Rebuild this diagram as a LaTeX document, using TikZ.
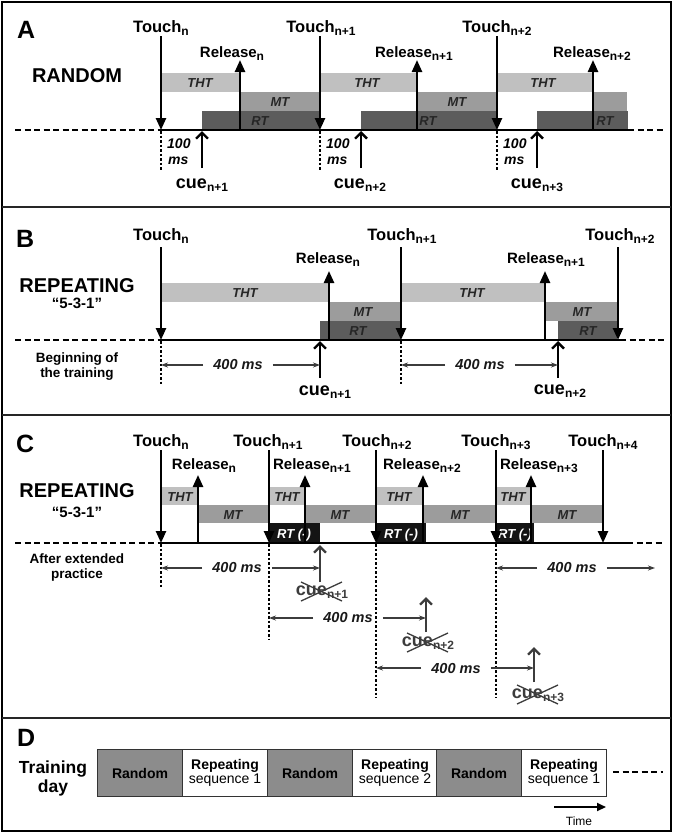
\documentclass[tikz,border=0pt]{standalone}
\usepackage{fontspec}
\setmainfont{Liberation Sans}
\usepackage{graphicx}
\usetikzlibrary{arrows.meta}
\definecolor{thtc}{HTML}{C0C0C0}
\definecolor{mtc}{HTML}{9C9C9C}
\definecolor{rtc}{HTML}{5C5C5C}
\definecolor{rtmc}{HTML}{141414}
\definecolor{darkc}{HTML}{3C3C3C}
\definecolor{randc}{HTML}{8C8C8C}
\newcommand\fsz[1]{\fontsize{#1}{#1}\selectfont}
\newcommand\lsub[1]{\raisebox{-3.5pt}{\fsz{12}#1}}
\newcommand\arr[5]{\coordinate (#1s) at (#3,#4);\coordinate (#1e) at (#3,#5);\draw[#2] (#1s) -- (#1e);}
\newcommand\dimln[6]{% name, y, xleft, xright, xtext, label
  \coordinate (#1L) at (#3,#2);\coordinate (#1R) at (#4,#2);
  \node[dimlbl] (#1) at (#5,#2) {#6};
  \draw[dimarr] (#1.west) -- (#1L);\draw[dimarr] (#1.east) -- (#1R);}
\newcommand\xcue[4]{% name, x, base, sub
  \node[xlbl] (#1) at (#2,#3) {cue\lsub{#4}};
  \coordinate (#1a) at (#2-21,#3-13);\coordinate (#1b) at (#2+20,#3+6);
  \coordinate (#1c) at (#2-21,#3+6);\coordinate (#1d) at (#2+20,#3-13);
  \draw[xline] (#1a) -- (#1b);\draw[xline] (#1c) -- (#1d);}
\newcommand\tbase[6]{% prefix, y, xl, xs, xe, xr
  \coordinate (#1L) at (#3,#2);\coordinate (#1S) at (#4,#2);\coordinate (#1E) at (#5,#2);\coordinate (#1R) at (#6,#2);
  \draw[basedash] (#1L) -- (#1S);\draw[basesolid] (#1S) -- (#1E);\draw[basedash] (#1E) -- (#1R);}
\begin{document}
\begin{tikzpicture}[x=1pt,y=-1pt,
  evarr/.style={line width=2.4pt,-{Triangle[length=12pt,width=10pt]}},
  cuearr/.style={line width=2.3pt,-{Straight Barb[length=6pt,width=12pt]}},
  xcuearr/.style={cuearr,draw=darkc},
  dotln/.style={line width=1.3pt,dash pattern=on 2.5pt off 2pt},
  basesolid/.style={line width=2.4pt},
  basedash/.style={line width=2.4pt,dash pattern=on 6pt off 3.5pt},
  dimarr/.style={line width=1.1pt,draw=darkc,-{Stealth[length=7pt,width=5pt]}},
  dimlbl/.style={font=\fsz{14.5}\bfseries\itshape,inner ysep=0pt,inner xsep=10pt,anchor=center,text=black!90},
  tlbl/.style={font=\fsz{16.5}\bfseries,anchor=base,inner sep=0pt},
  rlbl/.style={font=\fsz{15}\bfseries,anchor=base,inner sep=0pt},
  clbl/.style={font=\fsz{18}\bfseries,anchor=base,inner sep=0pt},
  barlbl/.style={font=\fsz{13}\bfseries\itshape,anchor=base,inner sep=0pt,text=black!85},
  rtmlbl/.style={barlbl,text=white},
  plbl/.style={font=\fsz{25}\bfseries,anchor=base west,inner sep=0pt},
  clslbl/.style={font=\fsz{20}\bfseries,anchor=base,inner sep=0pt},
  qlbl/.style={font=\fsz{15}\bfseries,anchor=base,inner sep=0pt},
  notelbl/.style={font=\fsz{13.5}\bfseries,anchor=base,inner sep=0pt},
  mslbl/.style={font=\fsz{14}\bfseries\itshape,anchor=base west,inner sep=0pt},
  xlbl/.style={font=\fsz{18}\bfseries,anchor=base,inner sep=0pt,text=darkc},
  xline/.style={line width=1.3pt,draw=darkc},
  blk/.style={draw=black!80,line width=1pt,minimum width=85pt,minimum height=47pt,inner sep=0pt,anchor=north west,align=center,font=\fsz{14}},
  frame/.style={line width=2.6pt},
  sepln/.style={line width=2pt,draw=black!85}]
\useasboundingbox (0,0) rectangle (673,833);
\fill[white] (0,0) rectangle (673,833);
% frame and separators
\draw[frame] (2,2) rectangle (671,831);
\coordinate (s1a) at (2,207);\coordinate (s1b) at (671,207);\draw[sepln] (s1a) -- (s1b);
\coordinate (s2a) at (2,415);\coordinate (s2b) at (671,415);\draw[sepln] (s2a) -- (s2b);
\coordinate (s3a) at (2,718);\coordinate (s3b) at (671,718);\draw[sepln] (s3a) -- (s3b);

%%%%%%%%%%%%%%%% PANEL A
\node[plbl] (pA) at (17,38) {A};
\node[clslbl] (rand) at (77,82) {RANDOM};
\fill[thtc] (161,73) rectangle (240,92);
\fill[thtc] (320,73) rectangle (417,92);
\fill[thtc] (497,73) rectangle (593,92);
\fill[mtc] (240,92) rectangle (320,111);
\fill[mtc] (417,92) rectangle (497,111);
\fill[mtc] (593,92) rectangle (627,111);
\fill[rtc] (202,111) rectangle (320,130);
\fill[rtc] (361,111) rectangle (497,130);
\fill[rtc] (537,111) rectangle (628,130);
\node[barlbl] (aTHT1) at (200,87) {THT};
\node[barlbl] (aTHT2) at (367,87) {THT};
\node[barlbl] (aTHT3) at (543,87) {THT};
\node[barlbl] (aMT1) at (280,106) {MT};
\node[barlbl] (aMT2) at (457,106) {MT};
\node[barlbl] (aRT1) at (260,125) {RT};
\node[barlbl] (aRT2) at (428,125) {RT};
\node[barlbl] (aRT3) at (605,125) {RT};
\tbase{aB}{130}{15}{161}{628}{665}
\arr{aT1}{evarr}{161}{36}{130}
\arr{aT2}{evarr}{320}{36}{130}
\arr{aT3}{evarr}{497}{36}{130}
\arr{aR1}{evarr}{240}{130}{60}
\arr{aR2}{evarr}{417}{130}{60}
\arr{aR3}{evarr}{593}{130}{60}
\arr{aC1}{cuearr}{202}{168}{131}
\arr{aC2}{cuearr}{361}{168}{131}
\arr{aC3}{cuearr}{537}{168}{131}
\arr{aD1}{dotln}{161}{131}{170}
\arr{aD2}{dotln}{320}{131}{170}
\arr{aD3}{dotln}{497}{131}{170}
\node[tlbl] (aTl1) at (161,32) {Touch\lsub{n}};
\node[tlbl] (aTl2) at (321,32) {Touch\lsub{n+1}};
\node[tlbl] (aTl3) at (497,32) {Touch\lsub{n+2}};
\node[rlbl] (aRl1) at (232,57) {Release\lsub{n}};
\node[rlbl] (aRl2) at (414,57) {Release\lsub{n+1}};
\node[rlbl] (aRl3) at (592,57) {Release\lsub{n+2}};
\node[clbl] (aCl1) at (202,188) {cue\lsub{n+1}};
\node[clbl] (aCl2) at (360,188) {cue\lsub{n+2}};
\node[clbl] (aCl3) at (537,188) {cue\lsub{n+3}};
\node[mslbl] (am1a) at (167,148) {100};\node[mslbl] (am1b) at (168,164) {ms};
\node[mslbl] (am2a) at (326,148) {100};\node[mslbl] (am2b) at (327,164) {ms};
\node[mslbl] (am3a) at (503,148) {100};\node[mslbl] (am3b) at (504,164) {ms};

%%%%%%%%%%%%%%%% PANEL B
\node[plbl] (pB) at (16,247) {B};
\node[clslbl] (repB) at (77,292) {REPEATING};
\node[qlbl] (qB) at (77,308) {“5-3-1”};
\node[notelbl] (nB1) at (77,362) {Beginning of};
\node[notelbl] (nB2) at (77,377) {the training};
\fill[thtc] (161,283) rectangle (329,302);
\fill[thtc] (401,283) rectangle (545,302);
\fill[mtc] (329,302) rectangle (401,321);
\fill[mtc] (545,302) rectangle (617,321);
\fill[rtc] (320,321) rectangle (401,340);
\fill[rtc] (558,321) rectangle (617,340);
\node[barlbl] (bTHT1) at (245,297) {THT};
\node[barlbl] (bTHT2) at (472,297) {THT};
\node[barlbl] (bMT1) at (363,316) {MT};
\node[barlbl] (bMT2) at (582,316) {MT};
\node[barlbl] (bRT1) at (358,335) {RT};
\node[barlbl] (bRT2) at (588,335) {RT};
\tbase{bB}{340}{15}{161}{620}{665}
\arr{bT1}{evarr}{161}{247}{340}
\arr{bT2}{evarr}{401}{247}{340}
\arr{bT3}{evarr}{618}{247}{340}
\arr{bR1}{evarr}{329}{340}{271}
\arr{bR2}{evarr}{545}{340}{271}
\arr{bC1}{cuearr}{320}{378}{341}
\arr{bC2}{cuearr}{558}{378}{341}
\arr{bD1}{dotln}{161}{341}{385}
\arr{bD2}{dotln}{401}{341}{385}
\dimln{bM1}{365}{161}{320}{238}{400 ms}
\dimln{bM2}{365}{401}{558}{480}{400 ms}
\node[tlbl] (bTl1) at (161,240) {Touch\lsub{n}};
\node[tlbl] (bTl2) at (402,240) {Touch\lsub{n+1}};
\node[tlbl] (bTl3) at (620,240) {Touch\lsub{n+2}};
\node[rlbl] (bRl1) at (328,263) {Release\lsub{n}};
\node[rlbl] (bRl2) at (546,263) {Release\lsub{n+1}};
\node[clbl] (bCl1) at (325,395) {cue\lsub{n+1}};
\node[clbl] (bCl2) at (560,394) {cue\lsub{n+2}};

%%%%%%%%%%%%%%%% PANEL C
\node[plbl] (pC) at (16,452) {C};
\node[clslbl] (repC) at (77,497) {REPEATING};
\node[qlbl] (qC) at (77,517) {“5-3-1”};
\node[notelbl] (nC1) at (77,563) {After extended};
\node[notelbl] (nC2) at (77,578) {practice};
\fill[thtc] (161,487) rectangle (198,505);
\fill[thtc] (269,487) rectangle (305,505);
\fill[thtc] (376,487) rectangle (423,505);
\fill[thtc] (496,487) rectangle (531,505);
\fill[mtc] (198,505) rectangle (269,523);
\fill[mtc] (305,505) rectangle (376,523);
\fill[mtc] (423,505) rectangle (496,523);
\fill[mtc] (531,505) rectangle (603,523);
\fill[rtmc] (269,523) rectangle (320,543);
\fill[rtmc] (376,523) rectangle (426,543);
\fill[rtmc] (496,523) rectangle (534,543);
\node[barlbl] (cTHT1) at (180,501) {THT};
\node[barlbl] (cTHT2) at (287,501) {THT};
\node[barlbl] (cTHT3) at (399,501) {THT};
\node[barlbl] (cTHT4) at (513,501) {THT};
\node[barlbl] (cMT1) at (233,519) {MT};
\node[barlbl] (cMT2) at (340,519) {MT};
\node[barlbl] (cMT3) at (460,519) {MT};
\node[barlbl] (cMT4) at (567,519) {MT};
\node[rtmlbl] (cRT1) at (294,538) {RT (-)};
\node[rtmlbl] (cRT2) at (401,538) {RT (-)};
\node[rtmlbl] (cRT3) at (515,538) {RT (-)};
\tbase{cB}{543}{15}{161}{627}{665}
\arr{cT1}{evarr}{161}{450}{543}
\arr{cT2}{evarr}{269}{450}{543}
\arr{cT3}{evarr}{376}{450}{543}
\arr{cT4}{evarr}{496}{450}{543}
\arr{cT5}{evarr}{603}{450}{543}
\arr{cR1}{evarr}{198}{543}{475}
\arr{cR2}{evarr}{305}{543}{475}
\arr{cR3}{evarr}{423}{543}{475}
\arr{cR4}{evarr}{531}{543}{475}
\arr{cD1}{dotln}{161}{544}{588}
\arr{cD2}{dotln}{269}{544}{640}
\arr{cD3}{dotln}{376}{544}{698}
\arr{cD4}{dotln}{496}{544}{698}
\arr{cC1}{xcuearr}{320}{582}{545}
\arr{cC2}{xcuearr}{426}{632}{597}
\arr{cC3}{xcuearr}{534}{682}{647}
\dimln{cM1}{568}{161}{320}{237}{400 ms}
\dimln{cM2}{618}{269}{426}{348}{400 ms}
\dimln{cM3}{668}{376}{534}{456}{400 ms}
\dimln{cM4}{568}{496}{655}{572}{400 ms}
\xcue{cX1}{322}{595}{n+1}
\xcue{cX2}{428}{646}{n+2}
\xcue{cX3}{538}{698}{n+3}
\node[tlbl] (cTl1) at (161,446) {Touch\lsub{n}};
\node[tlbl] (cTl2) at (268,446) {Touch\lsub{n+1}};
\node[tlbl] (cTl3) at (377,446) {Touch\lsub{n+2}};
\node[tlbl] (cTl4) at (496,446) {Touch\lsub{n+3}};
\node[tlbl] (cTl5) at (603,446) {Touch\lsub{n+4}};
\node[rlbl] (cRl1) at (204,469) {Release\lsub{n}};
\node[rlbl] (cRl2) at (312,469) {Release\lsub{n+1}};
\node[rlbl] (cRl3) at (422,469) {Release\lsub{n+2}};
\node[rlbl] (cRl4) at (539,469) {Release\lsub{n+3}};

%%%%%%%%%%%%%%%% PANEL D
\node[plbl] (pD) at (17,746) {D};
\node[font=\fsz{17.5}\bfseries,anchor=base,inner sep=0pt] (tr1) at (53,773) {Training};
\node[font=\fsz{17.5}\bfseries,anchor=base,inner sep=0pt] (tr2) at (53,792) {day};
\node[blk,fill=randc] (d1) at (97,749) {\bfseries Random};
\node[blk,fill=white] (d2) at (182,749) {\bfseries Repeating\\sequence 1};
\node[blk,fill=randc] (d3) at (267,749) {\bfseries Random};
\node[blk,fill=white] (d4) at (352,749) {\bfseries Repeating\\sequence 2};
\node[blk,fill=randc] (d5) at (436,749) {\bfseries Random};
\node[blk,fill=white] (d6) at (521,749) {\bfseries Repeating\\sequence 1};
\coordinate (dd1) at (613,772);\coordinate (dd2) at (663,772);
\draw[line width=2pt,dash pattern=on 6pt off 3.5pt] (dd1) -- (dd2);
\coordinate (tm1) at (554,807);\coordinate (tm2) at (606,807);
\draw[line width=2pt,-{Triangle[length=9pt,width=8pt]}] (tm1) -- (tm2);
\node[font=\fsz{12},anchor=base,inner sep=0pt] (time) at (579,825) {Time};
\end{tikzpicture}
\end{document}
